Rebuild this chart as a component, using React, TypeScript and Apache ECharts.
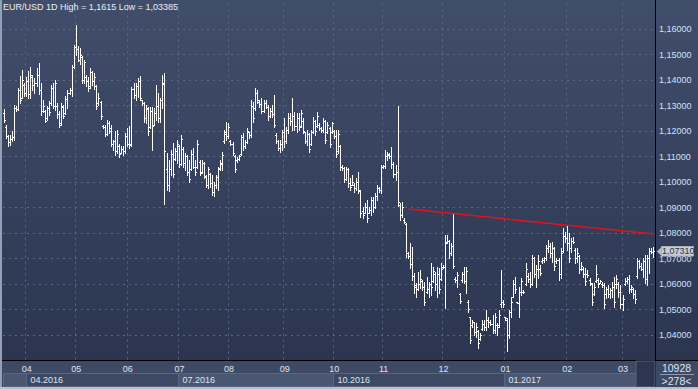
import React, { useEffect, useRef } from "react";
import * as echarts from "echarts";

// ---- DATA: daily OHLC rows [open, high, low, close] ----
const spring2016 = [
  [1.1270,1.1288,1.1234,1.1245],[1.1215,1.1222,1.1173,1.1180],[1.1180,1.1186,1.1140,1.1155],[1.1155,1.1183,1.1146,1.1170],
  [1.1170,1.1199,1.1162,1.1178],[1.1178,1.1301,1.1166,1.1290],[1.1290,1.1297,1.1280,1.1285],[1.1285,1.1369,1.1284,1.1360],
  [1.1360,1.1414,1.1310,1.1320],[1.1330,1.1438,1.1329,1.1400],[1.1380,1.1388,1.1336,1.1350],[1.1350,1.1410,1.1336,1.1395],
  [1.1395,1.1434,1.1329,1.1345],[1.1345,1.1450,1.1329,1.1420],[1.1410,1.1418,1.1362,1.1380],[1.1380,1.1408,1.1349,1.1390],
  [1.1390,1.1447,1.1375,1.1420],[1.1420,1.1467,1.1345,1.1360],[1.1360,1.1388,1.1264,1.1280],[1.1280,1.1323,1.1273,1.1300],
  [1.1280,1.1284,1.1234,1.1240],[1.1250,1.1297,1.1244,1.1290],[1.1290,1.1316,1.1264,1.1275],[1.1310,1.1382,1.1303,1.1370],
  [1.1370,1.1388,1.1290,1.1300],[1.1300,1.1401,1.1284,1.1390],[1.1300,1.1310,1.1251,1.1265],[1.1265,1.1277,1.1214,1.1225],
  [1.1230,1.1310,1.1225,1.1300],[1.1295,1.1301,1.1251,1.1260],[1.1270,1.1336,1.1267,1.1325],[1.1325,1.1362,1.1290,1.1350],
  [1.1350,1.1369,1.1345,1.1360],[1.1360,1.1460,1.1336,1.1450],[1.1450,1.1539,1.1447,1.1530],[1.1530,1.1615,1.1499,1.1520],
];
const may2016 = [
  [1.1520,1.1532,1.1473,1.1480],[1.1480,1.1525,1.1464,1.1500],[1.1490,1.1493,1.1388,1.1400],[1.1400,1.1480,1.1388,1.1470],
  [1.1410,1.1418,1.1375,1.1395],[1.1395,1.1410,1.1358,1.1370],[1.1375,1.1447,1.1369,1.1430],[1.1430,1.1434,1.1382,1.1395],
  [1.1395,1.1427,1.1366,1.1410],[1.1375,1.1382,1.1288,1.1300],[1.1310,1.1349,1.1303,1.1330],[1.1315,1.1319,1.1249,1.1260],
  [1.1220,1.1225,1.1212,1.1215],[1.1215,1.1225,1.1179,1.1190],[1.1190,1.1244,1.1186,1.1230],[1.1230,1.1238,1.1192,1.1200],
  [1.1210,1.1225,1.1140,1.1150],[1.1150,1.1166,1.1127,1.1160],[1.1160,1.1199,1.1107,1.1120],[1.1120,1.1205,1.1114,1.1190],
  [1.1140,1.1150,1.1097,1.1110],[1.1115,1.1142,1.1114,1.1130],[1.1130,1.1140,1.1107,1.1120],[1.1120,1.1192,1.1114,1.1180],
  [1.1180,1.1212,1.1140,1.1150],[1.1150,1.1218,1.1133,1.1145],
];
const june2016 = [
  [1.1150,1.1374,1.1140,1.1365],[1.1365,1.1387,1.1328,1.1340],[1.1340,1.1387,1.1322,1.1375],[1.1375,1.1407,1.1335,1.1395],
  [1.1395,1.1416,1.1322,1.1330],[1.1320,1.1322,1.1302,1.1310],[1.1310,1.1315,1.1237,1.1250],[1.1250,1.1302,1.1230,1.1290],
  [1.1285,1.1295,1.1184,1.1200],[1.1215,1.1295,1.1210,1.1280],[1.1280,1.1295,1.1125,1.1220],[1.1225,1.1289,1.1224,1.1270],
  [1.1270,1.1380,1.1243,1.1300],[1.1300,1.1348,1.1237,1.1250],[1.1250,1.1328,1.1237,1.1320],[1.1320,1.1420,1.1289,1.1390],
  [1.1385,1.1426,1.0912,1.1120],
];
const summer2016 = [
  [1.1050,1.1112,1.0969,1.0990],[1.0990,1.1086,1.0966,1.1050],[1.1050,1.1125,1.1027,1.1110],[1.1110,1.1152,1.1021,1.1030],
  [1.1090,1.1132,1.1086,1.1120],[1.1120,1.1165,1.1073,1.1150],[1.1140,1.1145,1.1060,1.1070],[1.1070,1.1184,1.1067,1.1170],
  [1.1130,1.1139,1.1060,1.1075],[1.1075,1.1112,1.1047,1.1100],[1.1100,1.1106,1.1027,1.1040],[1.1040,1.1086,1.1001,1.1010],
  [1.1050,1.1125,1.1047,1.1110],[1.1110,1.1132,1.1053,1.1060],[1.1060,1.1086,1.1027,1.1040],[1.1060,1.1165,1.1053,1.1150],
  [1.1080,1.1086,1.1027,1.1035],[1.1040,1.1086,1.1034,1.1075],[1.1075,1.1080,1.1014,1.1025],[1.1020,1.1027,1.0982,1.0990],
  [1.0990,1.1060,1.0975,1.1050],[1.1030,1.1034,1.0982,1.0995],[1.0995,1.1027,1.0949,1.0960],[1.0960,1.1001,1.0945,1.0990],
  [1.0990,1.1027,1.0975,1.1020],[1.1020,1.1060,1.0969,1.1050],[1.1055,1.1086,1.1047,1.1075],[1.1070,1.1119,1.1047,1.1105],
  [1.1160,1.1204,1.1152,1.1195],[1.1190,1.1237,1.1165,1.1180],[1.1180,1.1230,1.1171,1.1215],[1.1160,1.1165,1.1145,1.1150],
  [1.1150,1.1158,1.1106,1.1115],[1.1100,1.1106,1.1041,1.1050],[1.1085,1.1099,1.1080,1.1090],[1.1090,1.1106,1.1086,1.1100],
  [1.1110,1.1184,1.1106,1.1175],[1.1175,1.1191,1.1125,1.1140],[1.1140,1.1165,1.1132,1.1155],[1.1155,1.1210,1.1152,1.1200],
  [1.1195,1.1197,1.1171,1.1185],[1.1185,1.1322,1.1178,1.1300],[1.1300,1.1315,1.1237,1.1250],[1.1290,1.1367,1.1282,1.1350],
  [1.1350,1.1361,1.1308,1.1320],[1.1315,1.1322,1.1295,1.1305],[1.1305,1.1328,1.1269,1.1280],[1.1280,1.1322,1.1276,1.1310],
];
const autumn2016 = [
  [1.1310,1.1322,1.1289,1.1295],[1.1295,1.1302,1.1243,1.1260],[1.1260,1.1289,1.1256,1.1280],[1.1280,1.1302,1.1256,1.1265],
  [1.1265,1.1341,1.1217,1.1225],[1.1185,1.1191,1.1152,1.1160],[1.1160,1.1165,1.1126,1.1135],[1.1135,1.1165,1.1119,1.1150],
  [1.1150,1.1204,1.1126,1.1195],[1.1195,1.1250,1.1139,1.1160],[1.1160,1.1217,1.1152,1.1205],[1.1205,1.1269,1.1191,1.1250],
  [1.1250,1.1269,1.1224,1.1240],[1.1240,1.1328,1.1204,1.1260],[1.1260,1.1276,1.1204,1.1220],[1.1220,1.1269,1.1197,1.1250],
  [1.1250,1.1269,1.1204,1.1215],[1.1220,1.1282,1.1217,1.1270],[1.1240,1.1250,1.1191,1.1200],[1.1195,1.1197,1.1152,1.1160],
  [1.1160,1.1204,1.1145,1.1190],[1.1190,1.1191,1.1119,1.1130],[1.1150,1.1204,1.1145,1.1195],[1.1195,1.1256,1.1191,1.1240],
  [1.1240,1.1243,1.1184,1.1200],[1.1220,1.1276,1.1217,1.1260],[1.1225,1.1230,1.1204,1.1210],[1.1210,1.1217,1.1197,1.1205],
  [1.1205,1.1250,1.1197,1.1240],[1.1240,1.1243,1.1152,1.1165],[1.1195,1.1237,1.1191,1.1225],[1.1210,1.1217,1.1139,1.1150],
  [1.1195,1.1237,1.1191,1.1230],[1.1200,1.1204,1.1171,1.1180],[1.1180,1.1204,1.1099,1.1110],[1.1120,1.1204,1.1112,1.1190],
  [1.1140,1.1145,1.1047,1.1060],[1.1060,1.1067,1.1047,1.1055],[1.1055,1.1060,1.1001,1.1010],[1.1010,1.1060,1.1008,1.1050],
  [1.1050,1.1054,1.0982,1.0995],[1.0995,1.1014,1.0969,1.0980],[1.0990,1.1027,1.0988,1.1000],[1.0990,1.0995,1.0962,1.0975],
  [1.0975,1.1014,1.0969,1.1000],[1.1000,1.1041,1.0956,1.0970],[1.0965,1.0969,1.0864,1.0880],[1.0885,1.0903,1.0858,1.0870],
  [1.0880,1.0916,1.0877,1.0900],[1.0900,1.0929,1.0845,1.0860],[1.0880,1.0903,1.0877,1.0890],[1.0890,1.0942,1.0871,1.0930],
  [1.0930,1.0942,1.0884,1.0900],[1.0900,1.0956,1.0897,1.0945],[1.0945,1.0988,1.0929,1.0975],[1.0975,1.0982,1.0962,1.0970],
  [1.0970,1.1067,1.0956,1.1060],[1.1060,1.1067,1.1054,1.1062],[1.1062,1.1126,1.1054,1.1100],[1.1100,1.1119,1.1086,1.1110],
  [1.1105,1.1112,1.1093,1.1100],[1.1100,1.1139,1.1054,1.1070],[1.1070,1.1080,1.1021,1.1030],
];
const winter2016 = [
  [1.1030,1.1067,1.1008,1.1040],[1.1040,1.1299,1.0905,1.0920],
  [1.0910,1.0916,1.0851,1.0870],[1.0870,1.0923,1.0864,1.0900],[1.0850,1.0858,1.0838,1.0845],[1.0835,1.0838,1.0707,1.0720],
  [1.0720,1.0727,1.0701,1.0710],[1.0710,1.0759,1.0661,1.0680],[1.0680,1.0746,1.0616,1.0630],[1.0630,1.0642,1.0563,1.0590],
  [1.0595,1.0603,1.0550,1.0580],[1.0580,1.0648,1.0576,1.0600],[1.0600,1.0655,1.0583,1.0620],[1.0610,1.0616,1.0576,1.0590],
  [1.0590,1.0609,1.0518,1.0530],[1.0570,1.0629,1.0563,1.0580],[1.0580,1.0609,1.0550,1.0600],[1.0600,1.0681,1.0557,1.0590],
  [1.0610,1.0668,1.0609,1.0650],[1.0640,1.0648,1.0576,1.0600],[1.0600,1.0668,1.0550,1.0640],[1.0640,1.0661,1.0563,1.0580],
  [1.0620,1.0681,1.0616,1.0660],[1.0665,1.0675,1.0661,1.0668],[1.0668,1.0792,1.0505,1.0760],[1.0765,1.0792,1.0759,1.0770],
  [1.0770,1.0773,1.0701,1.0720],[1.0720,1.0759,1.0714,1.0750],[1.0750,1.0874,1.0661,1.0670],
  [1.0620,1.0629,1.0609,1.0615],[1.0615,1.0648,1.0590,1.0635],[1.0560,1.0563,1.0524,1.0535],[1.0615,1.0648,1.0609,1.0640],
  [1.0640,1.0668,1.0603,1.0610],[1.0610,1.0668,1.0563,1.0650],[1.0530,1.0537,1.0491,1.0500],[1.0470,1.0472,1.0367,1.0380],
  [1.0440,1.0459,1.0433,1.0450],[1.0450,1.0452,1.0400,1.0410],[1.0410,1.0446,1.0394,1.0430],[1.0415,1.0420,1.0348,1.0370],
  [1.0385,1.0407,1.0380,1.0400],[1.0425,1.0459,1.0420,1.0445],[1.0445,1.0459,1.0420,1.0430],[1.0430,1.0498,1.0420,1.0460],
  [1.0460,1.0472,1.0433,1.0450],[1.0450,1.0459,1.0439,1.0445],[1.0445,1.0478,1.0407,1.0420],[1.0420,1.0485,1.0407,1.0470],
  [1.0440,1.0446,1.0400,1.0430],[1.0440,1.0498,1.0433,1.0480],[1.0520,1.0655,1.0511,1.0530],[1.0530,1.0537,1.0511,1.0520],
  [1.0470,1.0472,1.0459,1.0465],[1.0460,1.0465,1.03385,1.0400],
  [1.0400,1.0498,1.0387,1.0490],[1.0490,1.0550,1.0472,1.0530],[1.0550,1.0616,1.0550,1.0600],[1.0600,1.0629,1.0563,1.0580],
  [1.0528,1.0531,1.0524,1.0527],[1.0527,1.0590,1.0472,1.0570],[1.0570,1.0622,1.0557,1.0610],[1.0570,1.0576,1.0563,1.0568],
];
const early2017 = [
  [1.0600,1.0681,1.0596,1.0660],[1.0630,1.0642,1.0609,1.0620],[1.0620,1.0648,1.0590,1.0600],[1.0600,1.0714,1.0596,1.0700],
  [1.0700,1.0707,1.0629,1.0640],[1.0640,1.0675,1.0590,1.0660],[1.0660,1.0714,1.0622,1.0690],[1.0660,1.0675,1.0635,1.0645],
  [1.0690,1.0701,1.0681,1.0695],[1.0695,1.0707,1.0688,1.0700],[1.0700,1.0753,1.0694,1.0740],[1.0740,1.0773,1.0727,1.0750],
  [1.0750,1.0759,1.0707,1.0720],[1.0720,1.0766,1.0688,1.0740],[1.0740,1.0746,1.0655,1.0670],[1.0690,1.0701,1.0681,1.0695],
  [1.0695,1.0701,1.0616,1.0640],[1.0640,1.0740,1.0622,1.0720],[1.0730,1.0818,1.0727,1.0790],[1.0790,1.0805,1.0766,1.0780],
  [1.0780,1.0829,1.0733,1.0760],[1.0760,1.0799,1.0688,1.0700],[1.0740,1.0779,1.0727,1.0770],[1.0770,1.0786,1.0759,1.0765],
  [1.0735,1.0740,1.0681,1.0700],[1.0700,1.0740,1.0688,1.0720],[1.0710,1.0714,1.0642,1.0660],[1.0660,1.0688,1.0655,1.0670],
  [1.0660,1.0668,1.0629,1.0640],[1.0640,1.0661,1.0596,1.0610],[1.0640,1.0655,1.0629,1.0635],[1.0615,1.0622,1.0596,1.0605],
  [1.0600,1.0603,1.0518,1.0530],[1.0560,1.0603,1.0557,1.0590],[1.0610,1.0675,1.0609,1.0640],[1.0615,1.0622,1.0590,1.0600],
  [1.0605,1.0616,1.0603,1.0610],[1.0600,1.0609,1.0590,1.0595],[1.0595,1.0603,1.0505,1.0520],[1.0560,1.0590,1.0544,1.0580],
  [1.0580,1.0596,1.0550,1.0560],[1.0560,1.0583,1.0544,1.0575],[1.0575,1.0609,1.0550,1.0590],[1.0590,1.0629,1.0511,1.0530],
  [1.0600,1.0635,1.0583,1.0620],[1.0600,1.0609,1.0550,1.0570],[1.0570,1.0596,1.0505,1.0520],[1.0520,1.0557,1.0498,1.0540],
  [1.0600,1.0622,1.0596,1.0610],[1.0610,1.0629,1.0603,1.0620],[1.0620,1.0635,1.0563,1.0580],[1.0580,1.0596,1.0570,1.0590],
  [1.0580,1.0583,1.0544,1.0560],[1.0560,1.0576,1.0524,1.0540],[1.0630,1.0701,1.0622,1.0690],[1.0690,1.0694,1.0661,1.0670],
  [1.0670,1.0681,1.0655,1.0660],[1.0660,1.0701,1.0629,1.0690],[1.0690,1.0714,1.0603,1.0620],[1.0620,1.0714,1.0596,1.0700],
  [1.0700,1.0740,1.0642,1.0730],[1.0730,1.0740,1.0720,1.0725],[1.0725,1.0746,1.0707,1.0731],
];

const monthLabels = ["04", "05", "06", "07", "08", "09", "10", "11", "12", "01", "02", "03"];
const monthStarts = [11, 35, 60, 85, 109, 136, 160, 184, 213, 243, 273, 300];
const quarterLabels = ["", "04.2016", "07.2016", "10.2016", "01.2017"];
const quarterStarts = [0, 11, 85, 160, 243];
const quarterEnd = 307;
const trendLine = [[196, 1.0894], [315, 1.0796]];
const titleText = "EUR/USD 1D High = 1,1615 Low = 1,03385";
const lastPriceText = "1,07310";
const lastPrice = 1.0731;
const infoTop = "10928";
const infoBottom = ">278<";
const yMin = 1.03, yMax = 1.17, yStep = 0.01;

const bars = [...spring2016, ...may2016, ...june2016, ...summer2016, ...autumn2016, ...winter2016, ...early2017];

const FONT = "'Liberation Sans', Arial, sans-serif";
const W = 698, H = 389;
const GRID_LEFT = 3, GRID_RIGHT = 655, GRID_TOP = 3.5, GRID_BOTTOM = 360.5;

export default function App() {
  const ref = useRef<HTMLDivElement>(null);
  useEffect(() => {
    document.body.style.margin = "0";
    const chart = echarts.init(ref.current!, undefined, { renderer: "svg" });
    const monthAt = new Map<number, string>();
    monthStarts.forEach((s, k) => monthAt.set(s, monthLabels[k]));
    const categories = bars.map((_, i) => String(i));
    const data = bars.map((b, i) => [i, b[0], b[1], b[2], b[3]]);
    const BAR = "#ffffff";

    chart.setOption({
      animation: false,
      backgroundColor: {
        type: "linear", x: 0, y: 0, x2: 0, y2: 1,
        colorStops: [
          { offset: 0, color: "#414e6b" },
          { offset: GRID_BOTTOM / H, color: "#2b3550" },
          { offset: GRID_BOTTOM / H + 0.0001, color: "#3e4a64" },
          { offset: 1, color: "#3e4a64" },
        ],
      },
      title: {
        text: titleText, left: 3, top: 2, padding: 0,
        textStyle: { color: "#e8eef7", fontSize: 9, fontWeight: "normal", fontFamily: FONT },
      },
      grid: { left: GRID_LEFT, right: W - GRID_RIGHT, top: GRID_TOP, bottom: H - GRID_BOTTOM, containLabel: false },
      xAxis: {
        type: "category", data: categories, boundaryGap: true,
        axisLine: { show: false }, axisTick: { show: false },
        axisLabel: {
          interval: (i: number) => monthAt.has(i),
          formatter: (_v: string, i: number) => monthAt.get(i) ?? "",
          color: "#dbe5f4", fontSize: 9, fontFamily: FONT, margin: 4,
        },
        splitLine: {
          show: true, interval: (i: number) => monthAt.has(i),
          lineStyle: { color: "#5a6988", type: [2, 4], width: 1 },
        },
      },
      yAxis: {
        type: "value", position: "right", min: yMin, max: yMax, interval: yStep,
        axisLine: { show: false }, axisTick: { show: false },
        axisLabel: {
          color: "#d2e0f6", fontSize: 9, fontFamily: FONT, margin: 4,
          formatter: (v: number) => (v < yMin + yStep / 2 || v > yMax - yStep / 2 ? "" : v.toFixed(5).replace(".", ",")),
        },
        splitLine: { show: true, showMinLine: false, showMaxLine: false, lineStyle: { color: "#5a6988", type: [2, 4], width: 1 } },
      },
      series: [
        {
          type: "custom", data, encode: { x: 0, y: [1, 2, 3, 4] }, z: 3, silent: true,
          renderItem: (_p: any, api: any) => {
            const i = api.value(0);
            const x = api.coord([i, api.value(1)])[0];
            const yo = api.coord([i, api.value(1)])[1];
            const yh = api.coord([i, api.value(2)])[1];
            const yl = api.coord([i, api.value(3)])[1];
            const yc = api.coord([i, api.value(4)])[1];
            const cx = Math.floor(x) + 0.5;
            const style = { stroke: BAR, lineWidth: 1, fill: null };
            return {
              type: "group",
              children: [
                { type: "line", shape: { x1: cx, y1: Math.round(yh), x2: cx, y2: Math.round(yl) + 1 }, style },
                { type: "line", shape: { x1: cx - 1.5, y1: Math.round(yo) + 0.5, x2: cx, y2: Math.round(yo) + 0.5 }, style },
                { type: "line", shape: { x1: cx, y1: Math.round(yc) + 0.5, x2: cx + 1.5, y2: Math.round(yc) + 0.5 }, style },
              ],
            };
          },
        },
        {
          type: "line", data: trendLine, symbol: "none", silent: true, z: 5,
          lineStyle: { color: "#e2131c", width: 1.5 },
        },
      ],
    });

    const px = (i: number) => chart.convertToPixel({ xAxisIndex: 0 }, i) as number;
    const bw = px(1) - px(0);
    const edge = (i: number) => px(i) - bw / 2;
    const py = (v: number) => chart.convertToPixel({ yAxisIndex: 0 }, v) as number;

    const g: any[] = [];
    g.push({ type: "line", z: 100, shape: { x1: GRID_RIGHT + 0.5, y1: 0, x2: GRID_RIGHT + 0.5, y2: H - 2 }, style: { stroke: "#000", lineWidth: 1 } });
    g.push({ type: "line", z: 100, shape: { x1: 0, y1: GRID_BOTTOM, x2: W, y2: GRID_BOTTOM }, style: { stroke: "#000", lineWidth: 1 } });
    const rowTop = 373.5, rowBottom = 386.5;
    quarterStarts.forEach((q, k) => {
      const x0 = Math.round(edge(q)) + 0.5;
      const x1 = Math.round(k + 1 < quarterStarts.length ? edge(quarterStarts[k + 1]) : edge(quarterEnd)) + 0.5;
      g.push({
        type: "rect", z: 100,
        shape: { x: x0, y: rowTop, width: x1 - x0, height: rowBottom - rowTop },
        style: { fill: k % 2 === 0 ? "#4a5773" : "#3d4963", stroke: "#59667f", lineWidth: 1 },
      });
      if (quarterLabels[k]) {
        g.push({
          type: "text", z: 101, x: x0 + 4, y: (rowTop + rowBottom) / 2,
          style: { text: quarterLabels[k], fill: "#dbe5f4", fontSize: 9, fontFamily: FONT, verticalAlign: "middle" },
        });
      }
    });
    const xe = Math.round(edge(quarterEnd));
    g.push({ type: "rect", z: 100, shape: { x: xe, y: GRID_BOTTOM + 0.5, width: GRID_RIGHT - xe, height: rowBottom - GRID_BOTTOM }, style: { fill: "#2c364e", stroke: "#56637c", lineWidth: 1 } });
    g.push({ type: "text", z: 101, x: (GRID_RIGHT + W) / 2, y: 367.5, style: { text: infoTop, fill: "#dbe5f4", fontSize: 10.5, fontFamily: FONT, align: "center", verticalAlign: "middle" } });
    g.push({ type: "line", z: 101, shape: { x1: 660, y1: 374.5, x2: 694, y2: 374.5 }, style: { stroke: "#8c99af", lineWidth: 1 } });
    g.push({ type: "text", z: 101, x: (GRID_RIGHT + W) / 2, y: 381, style: { text: infoBottom, fill: "#dbe5f4", fontSize: 10.5, fontFamily: FONT, align: "center", verticalAlign: "middle" } });
    const ly = Math.round(py(lastPrice)) + 0.5;
    g.push({ type: "polygon", z: 110, shape: { points: [[657, ly], [662, ly - 5], [662, ly + 5]] }, style: { fill: "#b9bec8" } });
    g.push({ type: "rect", z: 110, shape: { x: 661.5, y: ly - 5, width: 32, height: 9.5 }, style: { fill: "#c9cdd4", stroke: "#aab0bb", lineWidth: 1 } });
    g.push({ type: "text", z: 111, x: 662, y: ly - 0.5, style: { text: lastPriceText, fill: "#2a3346", fontSize: 9, fontFamily: FONT, verticalAlign: "middle" } });
    g.push({ type: "rect", z: 120, shape: { x: 0, y: 0, width: 2, height: H }, style: { fill: "#93a1b7" } });
    g.push({ type: "rect", z: 120, shape: { x: 0, y: H - 2, width: W, height: 2 }, style: { fill: "#b6c0cf" } });

    chart.setOption({ graphic: g });
    return () => chart.dispose();
  }, []);
  return <div ref={ref} style={{ width: W, height: H, position: "fixed", left: 0, top: 0 }} />;
}
